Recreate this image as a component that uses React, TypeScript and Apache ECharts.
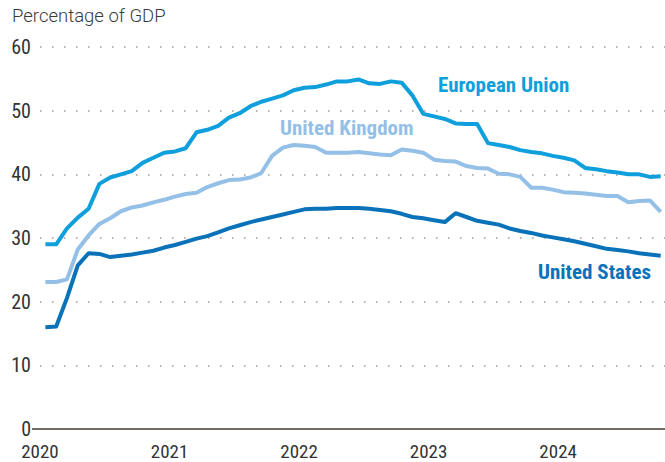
import React, { useEffect, useRef } from "react";
import * as echarts from "echarts";

// Monthly observations, Jan 2020 – Oct 2024 (percentage of GDP)
const startYear = 2020;
const yearTicks = [2020, 2021, 2022, 2023, 2024];

const euValues = [
  29.0, 29.0, 31.5, 33.2, 34.6, 38.5, 39.5, 40.0, 40.5, 41.8, 42.6, 43.4,
  43.6, 44.1, 46.6, 47.0, 47.6, 48.9, 49.6, 50.7, 51.4, 51.9, 52.4, 53.2,
  53.6, 53.7, 54.1, 54.6, 54.6, 54.9, 54.3, 54.2, 54.6, 54.4, 52.4, 49.5,
  49.1, 48.7, 48.0, 47.9, 47.9, 44.9, 44.6, 44.3, 43.8, 43.5, 43.3, 42.9,
  42.6, 42.2, 41.0, 40.8, 40.5, 40.3, 40.0, 40.0, 39.6, 39.7,
];

const ukValues = [
  23.1, 23.1, 23.5, 28.2, 30.4, 32.2, 33.1, 34.2, 34.8, 35.1, 35.6, 36.0,
  36.5, 36.9, 37.1, 38.0, 38.6, 39.1, 39.2, 39.5, 40.2, 42.9, 44.2, 44.6,
  44.5, 44.3, 43.4, 43.4, 43.4, 43.5, 43.3, 43.1, 43.0, 43.9, 43.7, 43.4,
  42.3, 42.1, 42.0, 41.3, 41.0, 40.9, 40.1, 40.0, 39.6, 37.9, 37.9, 37.6,
  37.2, 37.1, 37.0, 36.8, 36.6, 36.6, 35.6, 35.8, 35.9, 34.1,
];

const usValues = [
  16.0, 16.1, 20.6, 25.7, 27.6, 27.5, 27.0, 27.2, 27.4, 27.7, 28.0, 28.5,
  28.9, 29.4, 29.9, 30.3, 30.9, 31.5, 32.0, 32.5, 32.9, 33.3, 33.7, 34.1,
  34.5, 34.6, 34.6, 34.7, 34.7, 34.7, 34.6, 34.4, 34.2, 33.8, 33.3, 33.1,
  32.8, 32.5, 33.9, 33.3, 32.7, 32.4, 32.1, 31.5, 31.1, 30.8, 30.4, 30.1,
  29.8, 29.5, 29.1, 28.7, 28.3, 28.1, 27.9, 27.6, 27.4, 27.2,
];

const seriesNames = ["European Union", "United Kingdom", "United States"];
const yTicks = [0, 10, 20, 30, 40, 50, 60];

const EU_COLOR = "#0e9fdc";
const UK_COLOR = "#94bfe7";
const US_COLOR = "#0a72b9";
const AXIS_COLOR = "#746b64";
const NARROW = "'Liberation Sans Narrow', 'Roboto Condensed', 'Arial Narrow', Roboto, sans-serif";

const toPairs = (vals: number[]) => vals.map((v, i) => [i, v]);

export default function App() {
  const ref = useRef<HTMLDivElement>(null);
  useEffect(() => {
    if (!ref.current) return;
    const chart = echarts.init(ref.current, undefined, { renderer: "svg" });
    const lineSeries = (name: string, vals: number[], color: string, z: number) => ({
      name,
      type: "line",
      data: toPairs(vals),
      showSymbol: false,
      symbol: "none",
      z,
      lineStyle: { color, width: 4, join: "round", cap: "butt" },
      itemStyle: { color },
    });
    chart.setOption({
      animation: false,
      backgroundColor: "#ffffff",
      grid: { left: 40, right: 0, top: 47, bottom: 33, containLabel: false },
      xAxis: {
        type: "value",
        min: -0.5,
        max: 57.4,
        splitLine: { show: false },
        axisTick: { show: false },
        axisLine: { show: true, onZero: true, lineStyle: { color: AXIS_COLOR, width: 2 } },
        axisLabel: {
          customValues: yearTicks.map((y) => (y - startYear) * 12 - 0.5),
          formatter: (v: number) => String(startYear + Math.round((v + 0.5) / 12)),
          fontFamily: NARROW,
          fontSize: 19,
          lineHeight: 19,
          color: "#333333",
          margin: 13,
        },
      },
      yAxis: {
        type: "value",
        min: yTicks[0],
        max: yTicks[yTicks.length - 1],
        interval: 10,
        axisLine: { show: false },
        axisTick: { show: false },
        splitLine: {
          show: true,
          lineStyle: { color: "#a89e96", width: 1.6, type: [1.6, 10.4] },
        },
        axisLabel: {
          fontFamily: NARROW,
          fontSize: 20,
          lineHeight: 18,
          color: "#333333",
          margin: 9,
        },
      },
      graphic: [
        {
          type: "line",
          shape: { x1: 32, y1: 429, x2: 41, y2: 429 },
          style: { stroke: AXIS_COLOR, lineWidth: 2 },
          silent: true,
        },
        {
          type: "text",
          left: 12,
          top: 6,
          style: {
            text: "Percentage of GDP",
            fontFamily: "Roboto, sans-serif",
            fontSize: 18.5,
            fontWeight: 300,
            fill: "#3a3a3a",
          },
        },
        {
          type: "text",
          left: 438,
          top: 74,
          style: { text: seriesNames[0], fontFamily: NARROW, fontSize: 21, fontWeight: "bold", fill: EU_COLOR },
        },
        {
          type: "text",
          left: 280,
          top: 117,
          style: { text: seriesNames[1], fontFamily: NARROW, fontSize: 21, fontWeight: "bold", fill: UK_COLOR },
        },
        {
          type: "text",
          left: 538,
          top: 261,
          style: { text: seriesNames[2], fontFamily: NARROW, fontSize: 21, fontWeight: "bold", fill: US_COLOR },
        },
      ],
      series: [
        lineSeries(seriesNames[1], ukValues, UK_COLOR, 2),
        lineSeries(seriesNames[0], euValues, EU_COLOR, 3),
        lineSeries(seriesNames[2], usValues, US_COLOR, 4),
      ],
    });
    return () => chart.dispose();
  }, []);
  return <div ref={ref} style={{ width: 665, height: 462, position: "absolute", left: 0, top: 0 }} />;
}
